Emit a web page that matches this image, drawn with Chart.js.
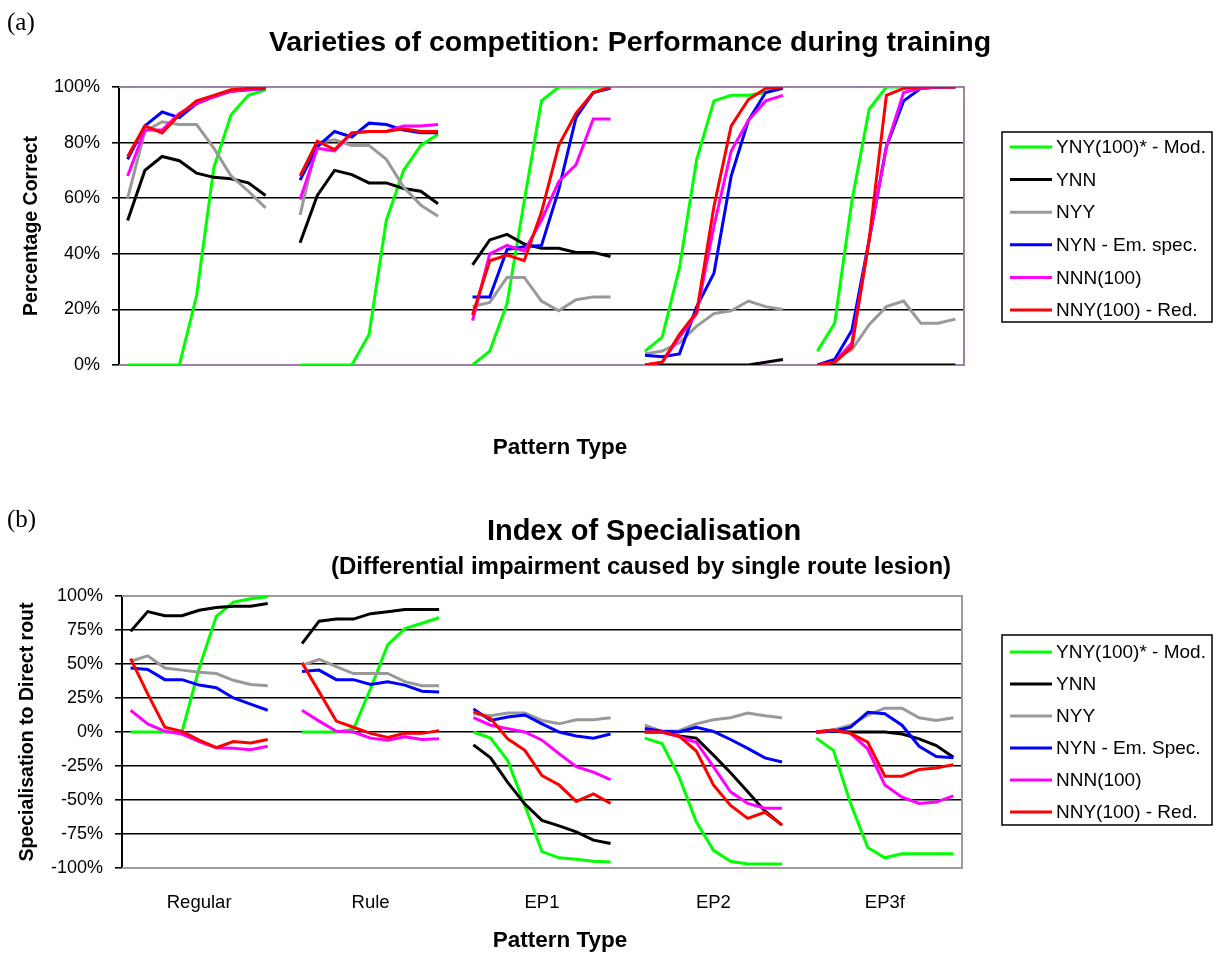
<!DOCTYPE html>
<html>
<head>
<meta charset="utf-8">
<title>Varieties of competition</title>
<script src="https://cdn.jsdelivr.net/npm/chart.js@4.4.0/dist/chart.umd.min.js"></script>
<style>
  body { margin: 0; background: #fff; }
  #page { position: relative; width: 1217px; height: 958px; overflow: hidden;
          font-family: "Liberation Sans", Arial, sans-serif; color: #000; }
  canvas { position: absolute; left: 0; }
  .txt { position: absolute; white-space: nowrap; line-height: 1; }
  .c { transform: translate(-50%, -50%); }
  .b { font-weight: bold; }
  .panel { font-family: "Liberation Serif", "Times New Roman", serif; font-size: 25px; }
</style>
</head>
<body>
<div id="page">
  <canvas id="chartA" width="1217" height="470" style="top:0"></canvas>
  <canvas id="chartB" width="1217" height="488" style="top:470px"></canvas>

  <div class="txt panel" style="left:7px; top:9px;">(a)</div>
  <div class="txt b c" style="left:630px; top:41px; font-size:28.5px;">Varieties of competition: Performance during training</div>
  <div class="txt b c" style="left:560px; top:447px; font-size:22.5px;">Pattern Type</div>

  <div class="txt panel" style="left:7px; top:506px;">(b)</div>
  <div class="txt b c" style="left:644px; top:530px; font-size:29px;">Index of Specialisation</div>
  <div class="txt b c" style="left:641px; top:566px; font-size:24px;">(Differential impairment caused by single route lesion)</div>
  <div class="txt b c" style="left:560px; top:940px; font-size:22.5px;">Pattern Type</div>
</div>

<script>
// pattern groups on the x axis, 9 training points each
const groupNames = ['Regular', 'Rule', 'EP1', 'EP2', 'EP3f'];
const pointsPerGroup = 9;

const seriesNames = ['YNY(100)* - Mod.', 'YNN', 'NYY', 'NYN - Em. spec.', 'NNN(100)', 'NNY(100) - Red.'];
const seriesNamesB = ['YNY(100)* - Mod.', 'YNN', 'NYY', 'NYN - Em. Spec.', 'NNN(100)', 'NNY(100) - Red.'];
const seriesColors = ['#00ff00', '#000000', '#999999', '#0000ff', '#ff00ff', '#ff0000'];

// (a) percentage correct during training
const perfYNY = [
  [0, 0, 0, 0, 25, 71, 90, 97, 99],
  [0, 0, 0, 0, 11, 52, 70, 79, 83],
  [0, 5, 22, 59, 95, 100, 100, 100, 100],
  [5, 10, 35, 74, 95, 97, 97, 98, 100],
  [5, 15, 59, 92, 100, 100, 100, 100, 100]
];
const perfYNN = [
  [52, 70, 75, 73.5, 69, 67.5, 67, 65.5, 61],
  [44, 61, 70, 68.5, 65.5, 65.5, 63.5, 62.5, 58],
  [36, 45, 47, 43.5, 42, 42, 40.5, 40.5, 39],
  [0, 0, 0, 0, 0, 0, 0, 1, 2],
  [0, 0, 0, 0, 0, 0, 0, 0, 0]
];
const perfNYY = [
  [60, 84, 87.5, 86.5, 86.5, 78, 68, 62.5, 56.5],
  [54, 80, 81, 79, 79, 74, 64, 57.5, 53.5],
  [21, 22.5, 31.5, 31.5, 23, 19.5, 23.5, 24.5, 24.5],
  [4, 5, 8, 14, 18.5, 19.5, 23, 21, 20],
  [0, 2, 5.5, 14.5, 21, 23, 15, 15, 16.5]
];
const perfNYN = [
  [74, 86, 91, 89, 94, 96.5, 98.5, 99, 99.5],
  [66.5, 78.5, 84, 82, 87, 86.5, 84.5, 83.5, 83.5],
  [24.5, 24.5, 41.5, 42.5, 43, 63, 89, 98, 99.5],
  [3.5, 3, 4, 21, 33, 68, 88, 98, 99.5],
  [0, 2, 12.5, 45, 78.5, 95, 99.5, 100, 100]
];
const perfNNN = [
  [68, 84.5, 84.5, 90.5, 94, 96.5, 98.5, 99, 99.5],
  [59.5, 78, 77, 83.5, 84, 84, 86, 86, 86.5],
  [16, 40, 43, 41, 52, 66, 72, 88.5, 88.5],
  [0, 1, 10, 18.5, 50, 77, 88, 95, 97],
  [0, 1, 8, 45, 78.5, 98, 99.5, 100, 100]
];
const perfNNY = [
  [75, 86, 83.5, 90, 95, 97, 99, 99.5, 99.5],
  [68, 80.5, 77.5, 83.5, 84, 84, 85, 84, 84],
  [18, 37.5, 39.5, 37.5, 55, 79, 90.5, 98, 100],
  [0, 1, 11, 19, 57, 86, 95.5, 99.5, 100],
  [0, 1, 6.5, 45, 97, 99.5, 100, 100, 100]
];

// (b) specialisation index after single route lesion
const specYNY = [
  [0, 0, 0, 0, 47, 85, 95.5, 98, 99.5],
  [0, 0, 0, 2, 32, 64, 76, 80, 84],
  [0, -4.5, -21, -54, -88, -92.5, -93.5, -95, -95.5],
  [-4.5, -8.5, -33, -66, -87, -95, -97, -97, -97],
  [-4.5, -13.5, -52.5, -85, -92.5, -89.5, -89.5, -89.5, -89.5]
];
const specYNN = [
  [74, 88.5, 85.5, 85.5, 89.5, 91.5, 92.5, 92.5, 94.5],
  [65, 81.5, 83, 83, 87, 88.5, 90, 90, 90],
  [-9.5, -19, -37, -53, -65, -69, -73.5, -79.5, -82],
  [0, 0, -3, -4.5, -17, -30, -44, -58, -68.5],
  [0, 0.5, 0, 0, 0, -1.5, -5, -10, -18.5]
];
const specNYY = [
  [52, 56, 47, 45.5, 44, 43, 38, 35, 34],
  [49, 53.5, 48, 43, 43, 43, 37, 34, 34],
  [13.5, 12, 14, 14, 8.5, 6, 9, 9, 10.5],
  [5, 0.5, 1, 6, 9, 10.5, 14, 12, 10.5],
  [0, 1.5, 5, 12.5, 17.5, 17.5, 10.5, 8.5, 10.5]
];
const specNYN = [
  [47, 46, 38.5, 38.5, 34.5, 32.5, 25, 20.5, 16],
  [44.5, 45.5, 38.5, 38.5, 35, 37, 34.5, 30, 29.5],
  [17, 8.5, 11, 12.5, 6, 0, -3, -4.5, -1.5],
  [2.5, 0.5, 0, 3.5, 0.5, -5.5, -12, -19, -22],
  [0, 0.5, 3.5, 14.5, 13.5, 5, -10.5, -18, -19]
];
const specNNN = [
  [16, 6, 0.5, -1.5, -7, -11.5, -12, -13, -10.5],
  [16, 8, 0.5, 0, -4.5, -6, -3.5, -5.5, -5],
  [10.5, 5, 2.5, 0, -6, -16, -25.5, -29.5, -35],
  [0, 0, -3.5, -7.5, -25.5, -44, -52.5, -56, -56],
  [0, 1.5, -1, -12.5, -39, -48, -52.5, -51.5, -47]
];
const specNNY = [
  [54, 28, 3.5, 0.5, -6, -11.5, -7, -8, -5.5],
  [51, 29.5, 8, 3.5, -1, -4, -1, -1, 1],
  [15, 10, -5, -13.5, -32, -39, -51, -45.5, -52.5],
  [0, 0, -3, -14, -39, -54, -63.5, -59, -68.5],
  [0, 1.5, -1, -7.5, -32.5, -32.5, -27.5, -26.5, -24]
];

const perfTicks = [0, 20, 40, 60, 80, 100];
const specTicks = [-100, -75, -50, -25, 0, 25, 50, 75, 100];

// one empty category between pattern groups, label in the middle of each group
function buildLabels() {
  const out = [];
  groupNames.forEach((name, g) => {
    if (g > 0) out.push('');
    for (let i = 0; i < pointsPerGroup; i++) out.push(i === 4 ? name : '');
  });
  return out;
}
function joinGroups(groups) {
  const out = [];
  groups.forEach((g, i) => {
    if (i > 0) out.push(null);
    out.push(...g);
  });
  return out;
}

Chart.defaults.font.family = '"Liberation Sans", Arial, sans-serif';
Chart.defaults.color = '#000';
Chart.defaults.animation = false;

// top / right / bottom frame of the plot area
const plotFrame = {
  id: 'plotFrame',
  beforeDatasetsDraw(chart, args, opts) {
    const { ctx, chartArea: a } = chart;
    ctx.save();
    ctx.strokeStyle = opts.color;
    ctx.lineWidth = 2;
    ctx.beginPath();
    ctx.moveTo(a.left, a.top);
    ctx.lineTo(a.right, a.top);
    ctx.lineTo(a.right, a.bottom);
    ctx.lineTo(a.left, a.bottom);
    ctx.stroke();
    ctx.restore();
  }
};

// boxed legend to the right of the plot
const boxLegend = {
  id: 'boxLegend',
  afterDraw(chart, args, opts) {
    const ctx = chart.ctx;
    ctx.save();
    ctx.strokeStyle = '#000';
    ctx.lineWidth = 1.5;
    ctx.strokeRect(opts.left, opts.top, opts.width, opts.height);
    ctx.font = '19px "Liberation Sans", Arial, sans-serif';
    ctx.textBaseline = 'middle';
    ctx.fillStyle = '#000';
    chart.data.datasets.forEach((ds, i) => {
      const y = opts.firstRow + i * opts.rowGap;
      ctx.strokeStyle = ds.borderColor;
      ctx.lineWidth = 3;
      ctx.beginPath();
      ctx.moveTo(opts.left + 8, y);
      ctx.lineTo(opts.left + 50, y);
      ctx.stroke();
      ctx.fillText(ds.label, opts.left + 54, y + 1);
    });
    ctx.restore();
  }
};

function makeDatasets(names, groupsList) {
  return groupsList.map((groups, i) => ({
    label: names[i],
    data: joinGroups(groups),
    borderColor: seriesColors[i],
    backgroundColor: seriesColors[i],
    borderWidth: 3,
    pointRadius: 0,
    tension: 0,
    fill: false,
    spanGaps: false,
    order: groupsList.length - i
  }));
}

function yAxis(ticksList, axisWidth, titleText, titlePad) {
  const min = ticksList[0], max = ticksList[ticksList.length - 1];
  return {
    min, max,
    afterBuildTicks: (scale) => { scale.ticks = ticksList.map(v => ({ value: v })); },
    afterFit: (scale) => { scale.width = axisWidth; },
    ticks: { callback: v => v + '%', font: { size: 18 }, padding: 12 },
    grid: {
      color: c => (c.tick && (c.tick.value === min || c.tick.value === max)) ? 'rgba(0,0,0,0)' : '#000',
      lineWidth: 1.6,
      tickColor: '#000',
      tickLength: 7,
      tickWidth: 1.6
    },
    border: { display: true, color: '#000', width: 2 },
    title: {
      display: true, text: titleText,
      font: { size: 19.5, weight: 'bold' },
      padding: { top: titlePad, bottom: 0 }
    }
  };
}

const labels = buildLabels();

new Chart(document.getElementById('chartA'), {
  type: 'line',
  data: {
    labels,
    datasets: makeDatasets(seriesNames, [perfYNY, perfYNN, perfNYY, perfNYN, perfNNN, perfNNY])
  },
  options: {
    responsive: false,
    layout: { padding: { top: 87, right: 253, left: 0, bottom: 0 } },
    plugins: {
      legend: { display: false },
      tooltip: { enabled: false },
      plotFrame: { color: '#a080a8' },
      boxLegend: { left: 1002, top: 132, width: 210, height: 190, firstRow: 147, rowGap: 32.6 }
    },
    scales: {
      x: {
        offset: true,
        afterFit: (scale) => { scale.height = 105; },
        ticks: { display: false },
        grid: { display: false, drawTicks: false },
        border: { display: false }
      },
      y: yAxis(perfTicks, 119, 'Percentage Correct', 20)
    }
  },
  plugins: [plotFrame, boxLegend]
});

new Chart(document.getElementById('chartB'), {
  type: 'line',
  data: {
    labels,
    datasets: makeDatasets(seriesNamesB, [specYNY, specYNN, specNYY, specNYN, specNNN, specNNY])
  },
  options: {
    responsive: false,
    layout: { padding: { top: 126, right: 255, left: 0, bottom: 0 } },
    plugins: {
      legend: { display: false },
      tooltip: { enabled: false },
      plotFrame: { color: '#a09a9a' },
      boxLegend: { left: 1002, top: 165, width: 210, height: 190, firstRow: 182, rowGap: 32 }
    },
    scales: {
      x: {
        offset: true,
        afterFit: (scale) => { scale.height = 90; },
        ticks: { autoSkip: false, maxRotation: 0, minRotation: 0, font: { size: 18.5 }, padding: 24 },
        grid: { display: false, drawTicks: false },
        border: { display: false }
      },
      y: yAxis(specTicks, 122, 'Specialisation to Direct rout', 16)
    }
  },
  plugins: [plotFrame, boxLegend]
});
</script>
</body>
</html>
